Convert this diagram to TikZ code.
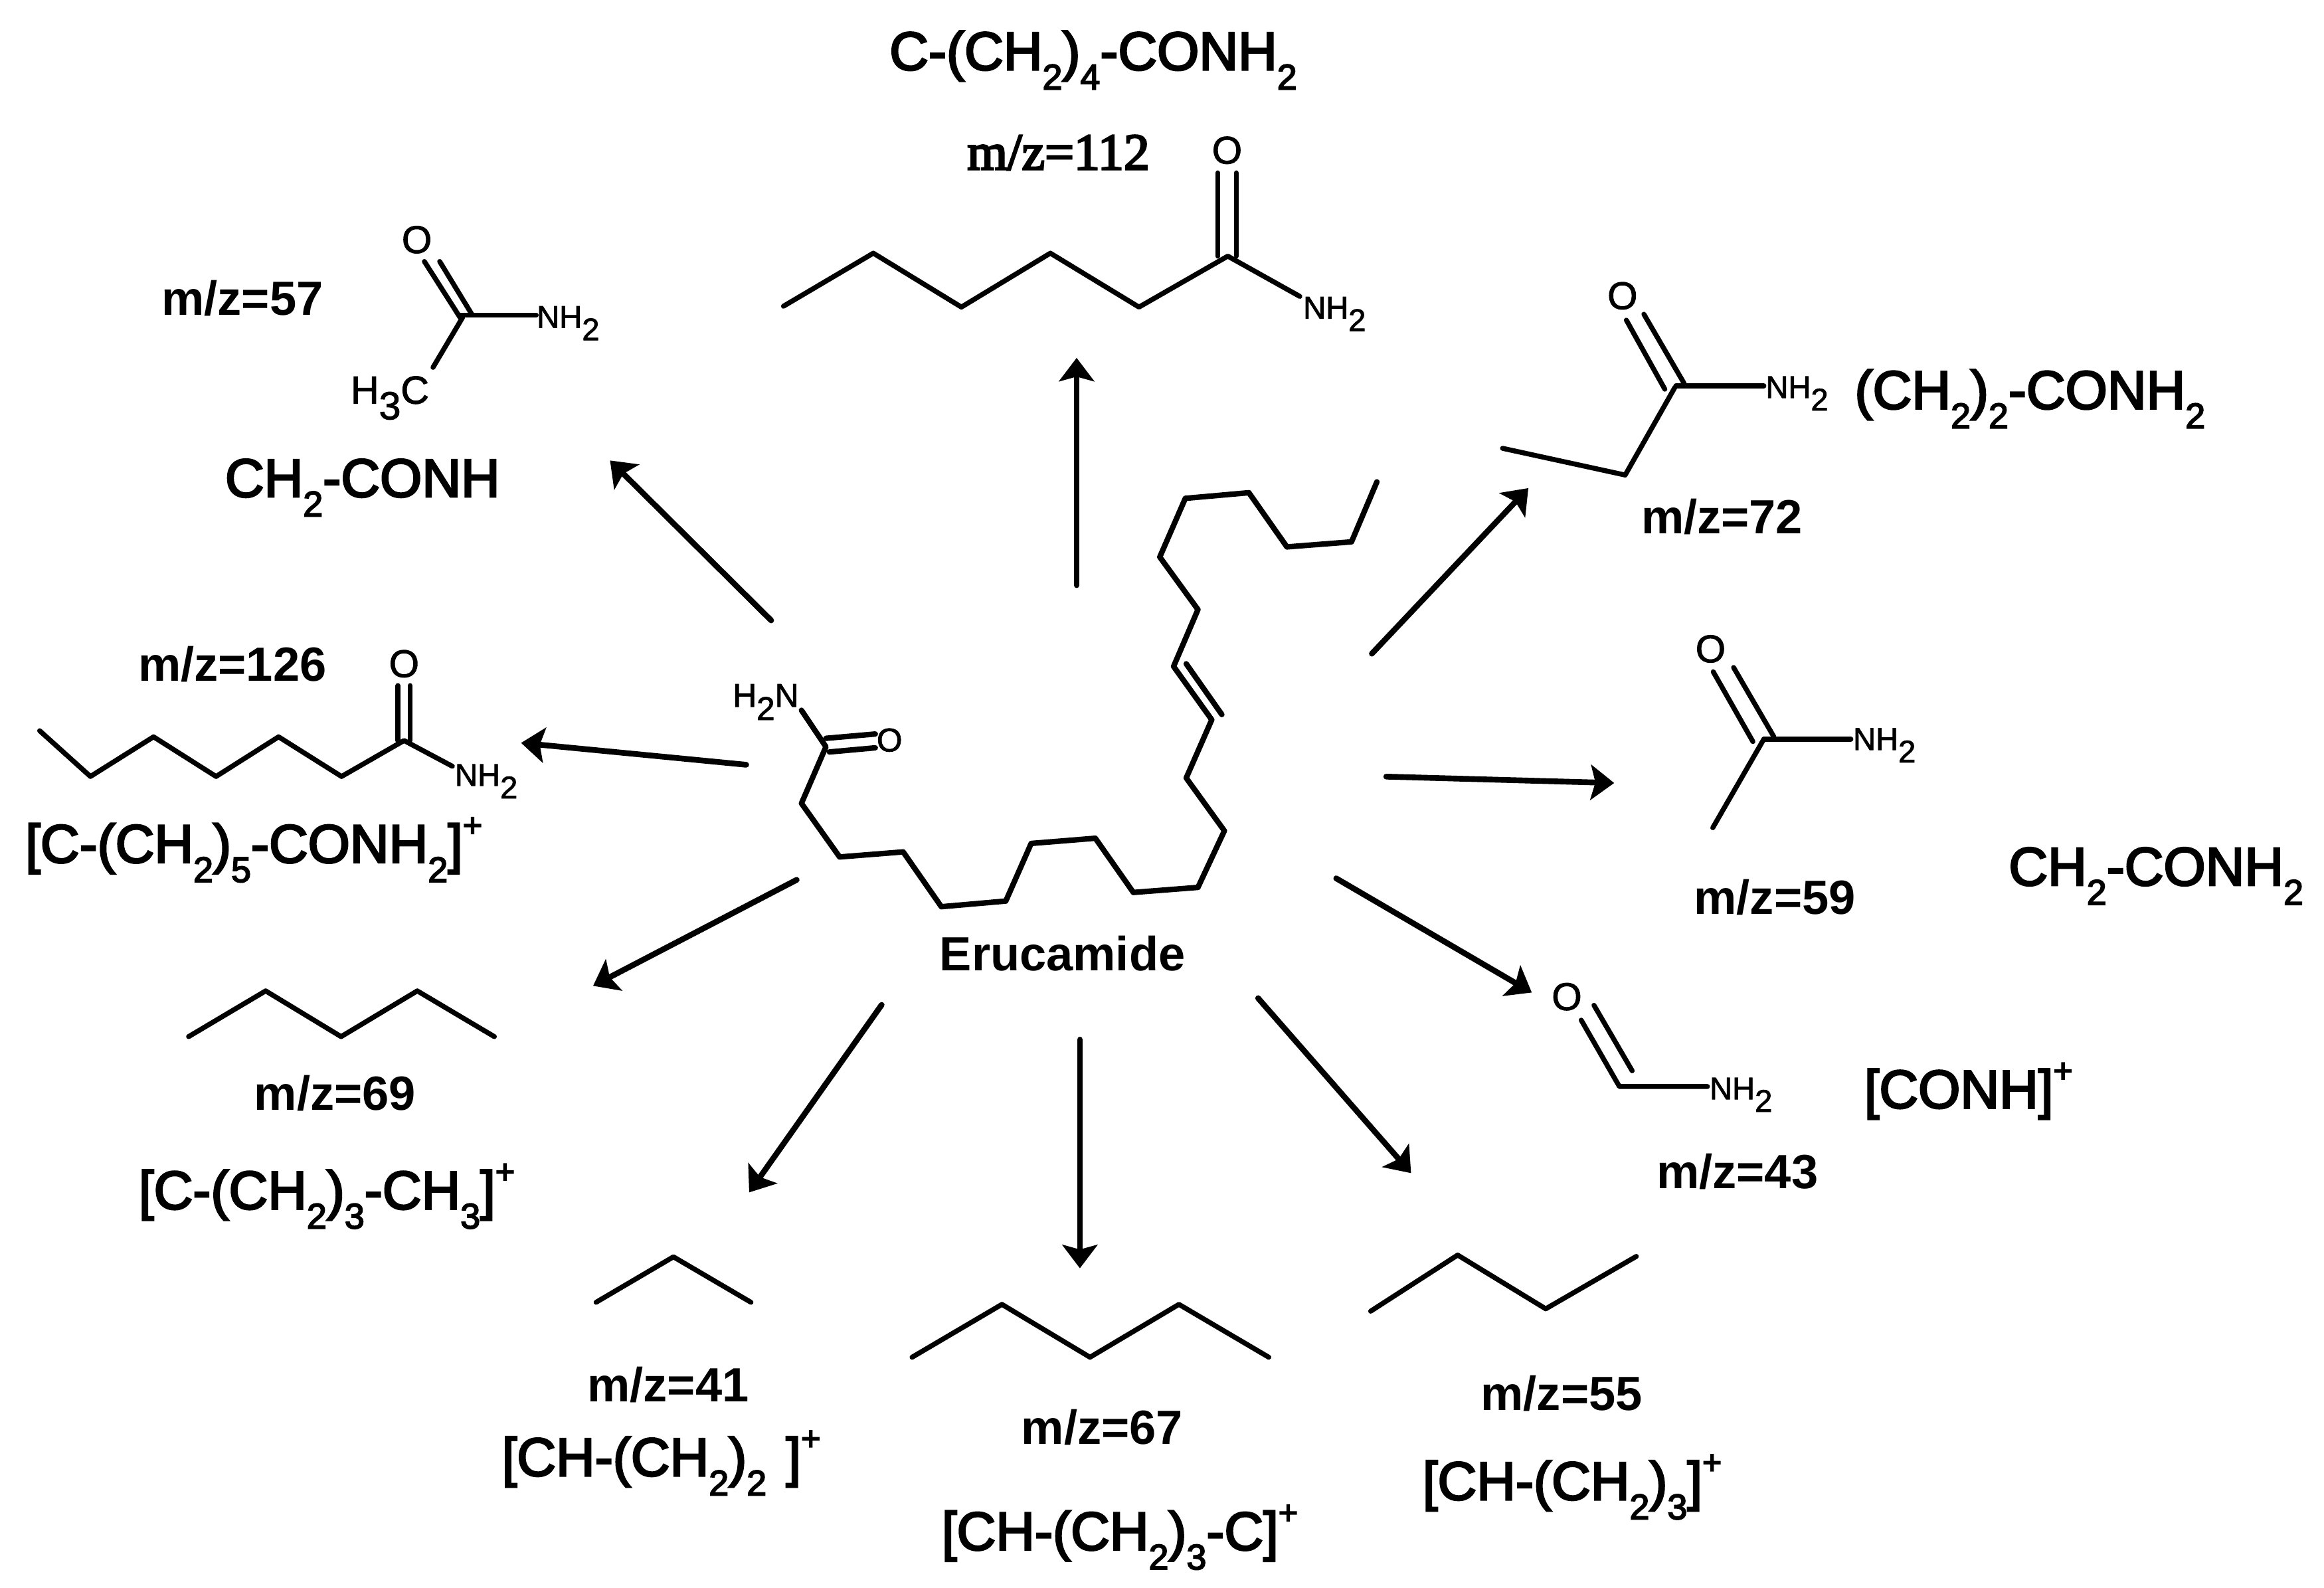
\documentclass[tikz,border=0pt]{standalone}
\usepackage{fontspec}
\usepackage{graphicx}
\setmainfont{Liberation Sans}
\newfontfamily\heavyform[FakeBold=3.4]{Liberation Sans}
\newfontfamily\heavyatom[FakeBold=1.8]{Liberation Sans}
\newfontfamily\heavymz[FakeBold=3.6]{Liberation Serif}
\usetikzlibrary{arrows.meta}
\newcommand{\sbx}[1]{\raisebox{-0.36em}{\scalebox{0.66}{#1}}}
\newcommand{\spx}[1]{\raisebox{0.48em}{\scalebox{0.62}{#1}}}
\newcommand{\atomsub}[1]{\raisebox{-0.4em}{#1}}
\tikzset{
  every node/.style={inner sep=0pt,outer sep=0pt,text=black},
  bond/.style={line width=1.9pt,line cap=round,line join=round,black},
  mainbond/.style={line width=2.1pt,line cap=round,line join=round,black},
  rxn/.style={line width=2.2pt,line cap=round,black,-{Stealth[length=9pt,width=13.5pt,inset=1.8pt]}},
  mz/.style={anchor=base west,font=\fontsize{18.4pt}{20pt}\selectfont\bfseries},
  mzserif/.style={anchor=base west,font=\fontsize{19.8pt}{22pt}\selectfont\heavymz},
  formula/.style={anchor=base west,font=\fontsize{20.7pt}{24pt}\selectfont\heavyform},
  nhtwo/.style={anchor=base west,font=\fontsize{12pt}{14pt}\selectfont\heavyatom},
  oxy/.style={anchor=center,font=\fontsize{14.8pt}{16pt}\selectfont\heavyatom},
  methyl/.style={anchor=base west,font=\fontsize{15pt}{16pt}\selectfont\heavyatom}
}
\begin{document}
\begin{tikzpicture}[x=0.02cm,y=-0.02cm]
\fill[white] (0,0) rectangle (1565,1069);
\useasboundingbox (0,0) rectangle (1565,1069);

% ---- Erucamide ----
\draw[mainbond] (927.2,324.5) -- (910.1,364.9) -- (866.6,368.3) -- (841,331.8) -- (798.2,335.6) -- (781,375.1) -- (806.7,410.5) -- (790.3,448.8) -- (816,484.7) -- (798.8,523.9) -- (824.5,559.5) -- (806.7,597.6) -- (763.2,601) -- (737.6,564.5) -- (694.4,568) -- (677.3,606.8) -- (633.9,610.6) -- (608.2,573.7) -- (565.4,577.1) -- (539.7,541) -- (556.2,502.9) -- (539.7,478.3);
\draw[mainbond] (798.8,447) -- (822.8,481.2);
\draw[mainbond] (556.2,497.2) -- (589.4,494.3);
\draw[mainbond] (558.5,506.4) -- (589.4,503.6);
\node[anchor=center,font=\fontsize{12.6pt}{14pt}\selectfont\heavyatom] (eO) at (599,498.4) {O};
\node[anchor=base west,font=\fontsize{12.6pt}{14pt}\selectfont\heavyatom] (eN) at (493.5,476) {H\atomsub{2}N};
\node[mz] (eru) at (632.8,653.6) {Erucamide};

% ---- Arrows ----
\coordinate (s1) at (725,394.1);   \coordinate (t1) at (725,241);
\coordinate (s2) at (519.3,417.8); \coordinate (t2) at (410.8,310.1);
\coordinate (s3) at (502.5,515);   \coordinate (t3) at (350.9,500.3);
\coordinate (s4) at (536.5,592.5); \coordinate (t4) at (399.4,663.9);
\coordinate (s5) at (593.7,676.7); \coordinate (t5) at (504.5,803);
\coordinate (s6) at (727.2,700.1); \coordinate (t6) at (727.2,854.1);
\coordinate (s7) at (847.2,672.2); \coordinate (t7) at (950.2,790);
\coordinate (s8) at (899.8,591.5); \coordinate (t8) at (1031.5,668.4);
\coordinate (s9) at (933.5,523);   \coordinate (t9) at (1087,527.3);
\coordinate (s10) at (923.8,440.2);\coordinate (t10) at (1029.2,328.7);
\foreach \k in {1,...,10} {\draw[rxn] (s\k) -- (t\k);}

% ---- m/z 112 ----
\node[formula] (f112) at (599,47.1) {C-(CH\sbx{2})\sbx{4}-CONH\sbx{2}};
\node[mzserif] (m112) at (651.4,114.1) {m/z=112};
\node[oxy] (o112) at (826.3,101.2) {O};
\draw[bond] (527.6,206.2) -- (588.1,170.5) -- (647.4,206.8) -- (707.3,170.5) -- (767,206.8) -- (826.8,172.5) -- (875.3,199.6);
\draw[bond] (820,172.5) -- (820,116.4);
\draw[bond] (832.5,172.5) -- (832.5,116.4);
\node[nhtwo] (n112) at (877.6,214.5) {NH\atomsub{2}};

% ---- m/z 57 ----
\node[mz] (m57) at (108.9,212.2) {m/z=57};
\node[formula] (f57) at (151.6,334.6) {CH\sbx{2}-CONH};
\node[oxy] (o57) at (280.7,161.4) {O};
\draw[bond] (285.8,176.1) -- (309.8,213.8);
\draw[bond] (296.1,176.1) -- (317.7,211.6);
\draw[bond] (309.8,212.2) -- (361.1,212.2);
\draw[bond] (311.5,213.8) -- (291.6,247.4);
\node[nhtwo] (n57) at (361.5,220.7) {NH\atomsub{2}};
\node[methyl] (c57) at (236.2,271.8) {H\atomsub{3}C};

% ---- m/z 126 ----
\node[mz] (m126) at (93.1,458.5) {m/z=126};
\node[oxy] (o126) at (272.1,447) {O};
\draw[bond] (26.7,492.1) -- (60.9,522.9) -- (103.4,496.2) -- (145.5,522.9) -- (187.6,496.2) -- (230,522.9) -- (272.1,498.7) -- (304.6,516);
\draw[bond] (268,498.7) -- (268,461.7);
\draw[bond] (276.2,498.7) -- (276.2,461.7);
\node[nhtwo] (n126) at (306.4,529.2) {NH\atomsub{2}};
\node[formula] (f126) at (17.1,580.9) {[C-(CH\sbx{2})\sbx{5}-CONH\sbx{2}]\spx{+}};

% ---- m/z 69 ----
\draw[bond] (127,698.1) -- (178.9,667.3) -- (229.7,698.1) -- (281,667.3) -- (332.9,698.1);
\node[mz] (m69) at (171.2,747.8) {m/z=69};
\node[formula] (f69) at (93.5,814.2) {[C-(CH\sbx{2})\sbx{3}-CH\sbx{3}]\spx{+}};

% ---- m/z 41 ----
\draw[bond] (401.4,877) -- (453.5,846.4) -- (505.7,877);
\node[mz] (m41) at (395.6,944) {m/z=41};
\node[formula] (f41) at (338,993.9) {[CH-(CH\sbx{2})\sbx{2}\hspace{0.36em}]\spx{+}};

% ---- m/z 67 ----
\draw[bond] (614.2,914) -- (674.7,878.4) -- (734,914) -- (793.9,878.4) -- (854.4,914);
\node[mz] (m67) at (687.8,972.5) {m/z=67};
\node[formula] (f67) at (634.2,1043.8) {[CH-(CH\sbx{2})\sbx{3}-C]\spx{+}};

% ---- m/z 55 ----
\draw[bond] (923,883) -- (981.6,845.2) -- (1040.9,881.4) -- (1101.9,846.1);
\node[mz] (m55) at (997.2,949.9) {m/z=55};
\node[formula] (f55) at (958,1010) {[CH-(CH\sbx{2})\sbx{3}]\spx{+}};

% ---- m/z 43 ----
\node[oxy] (o43) at (1055.1,671.2) {O};
\draw[bond] (1064.8,687) -- (1090.5,731.7) -- (1149.8,731.7);
\draw[bond] (1073.4,677) -- (1099.1,721.1);
\node[nhtwo] (n43) at (1151.3,740.3) {NH\atomsub{2}};
\node[mz] (m43) at (1115.6,800.4) {m/z=43};
\node[formula] (f43) at (1255.4,746.2) {[CONH]\spx{+}};

% ---- m/z 59 ----
\node[oxy] (o59) at (1151.9,437) {O};
\draw[bond] (1153.7,452.4) -- (1180.4,499.4);
\draw[bond] (1167.4,449.5) -- (1194.5,496.1);
\draw[bond] (1187.8,497.7) -- (1246.4,497.7);
\draw[bond] (1187.8,497.7) -- (1153.4,557.4);
\node[nhtwo] (n59) at (1247.9,505) {NH\atomsub{2}};
\node[mz] (m59) at (1140.8,615.8) {m/z=59};
\node[formula] (f59) at (1352.7,596.2) {CH\sbx{2}-CONH\sbx{2}};

% ---- m/z 72 ----
\node[oxy] (o72) at (1092.6,199.2) {O};
\draw[bond] (1095.2,215.6) -- (1121.1,262.1);
\draw[bond] (1107,211.6) -- (1134.1,258.2);
\draw[bond] (1128.5,259.9) -- (1187.8,259.9);
\draw[bond] (1127.8,261) -- (1094.4,319.9) -- (1011.8,301.9);
\node[nhtwo] (n72) at (1189,268) {NH\atomsub{2}};
\node[formula] (f72) at (1249,275.3) {(CH\sbx{2})\sbx{2}-CONH\sbx{2}};
\node[mz] (m72) at (1105.2,359.3) {m/z=72};
\end{tikzpicture}
\end{document}
